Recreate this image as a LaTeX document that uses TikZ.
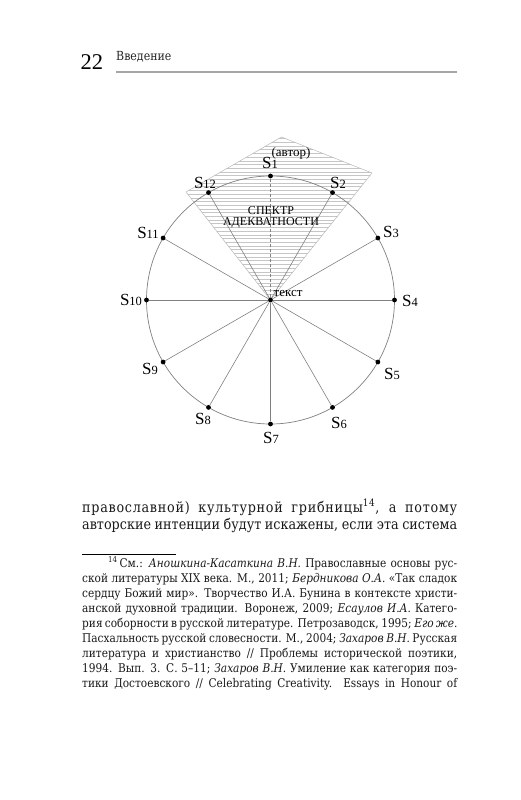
\documentclass[tikz,border=0pt]{standalone}
\usepackage{fontspec}
\setmainfont{DejaVu Serif}
\newfontfamily\timesfont{Liberation Serif}
\newfontfamily\narrowfont[FakeStretch=0.88]{DejaVu Serif}
\usetikzlibrary{positioning}

\newcommand{\snum}[1]{{\fontsize{17}{17}\selectfont S}{\fontsize{12.5}{12.5}\selectfont #1}}

\begin{document}
\begin{tikzpicture}[x=1pt, y=-1pt,
  rim/.style={draw=gray, line width=0.7pt},
  spoke/.style={draw=gray, line width=0.6pt},
  dot/.style={circle, fill=black, inner sep=0pt, minimum size=4.8pt},
  slab/.style={font=\timesfont, inner sep=0pt},
  hatch/.style={draw=gray!45, line width=0.4pt},
  bodyline/.style={anchor=base west, inner sep=0pt, text=black!90, font=\narrowfont\fontsize{14.5}{16}\selectfont},
  noteline/.style={anchor=base west, inner sep=0pt, text=black!90, font=\narrowfont\fontsize{12}{14}\selectfont}
]
\useasboundingbox (0,0) rectangle (521,800);

% running head
\node[anchor=base west, inner sep=0pt, font=\timesfont\fontsize{22.5}{22}\selectfont] (pageno) at (80.5,70) {22};
\node[anchor=base west, inner sep=0pt, text=black!85, font=\narrowfont\fontsize{12.5}{12}\selectfont] (runhead) at (116,61) {Введение};
\draw[gray!70, line width=2pt] (116,72) -- (457,72);

% spectrum of adequacy
\coordinate (c) at (270.5,300);
\coordinate (spl) at (186,192);
\coordinate (spt) at (281.5,137);
\coordinate (spr) at (372,173);
\begin{scope}
  \clip (c) -- (spl) -- (spt) -- (spr) -- cycle;
  \foreach \y in {138.5,142.2,...,300} \draw[hatch] (180,\y) -- (380,\y);
\end{scope}
\draw[gray!55, line width=0.5pt] (c) -- (spl) -- (spt) -- (spr) -- cycle;

% circle, points and spokes
\draw[rim] (c) circle[radius=124];
\node[dot] (ctr) at (c) {};
\foreach \i [evaluate=\i as \a using -120+30*\i] in {1,...,12}
  \node[dot] (s\i) at ([shift={(\a:124)}]c) {};
\draw[spoke, dash pattern=on 3pt off 2pt] (ctr) -- (s1);
\foreach \i in {2,...,12}
  \draw[spoke] (ctr) -- (s\i);

% labels
\foreach \i/\x/\y in {1/270/163, 2/338/183, 3/391/232, 4/410/301, 5/392/374, 6/339/423,
    7/271/438, 8/203/419, 9/150/369, 10/131/300, 11/148/233, 12/205/183}
  \node[slab] (l\i) at (\x,\y) {\snum{\i}};
\node[slab, font=\timesfont\fontsize{13}{13}\selectfont] (author) at (291,153) {(автор)};
\node[slab, font=\timesfont\fontsize{13}{13}\selectfont, anchor=west] (txt) at (273.5,293) {текст};
\node[slab, font=\timesfont\fontsize{12}{11.5}\selectfont, align=center] (spec) at (271,217.5) {СПЕКТР\\АДЕКВАТНОСТИ};

% body text
\node[bodyline] (ln1) at (82,512) {\makebox[375pt][s]{\addfontfeature{LetterSpace=5}православной) культурной грибницы\textsuperscript{14}, а потому}};
\node[bodyline] (ln2) at (82,529) {\makebox[375pt][s]{авторские интенции будут искажены, если эта система}};

% footnote
\draw[line width=0.8pt] (82,554) -- (176,554);
\node[noteline] (fn1) at (108,567) {\makebox[349pt][s]{\textsuperscript{14}\,См.: \textit{Аношкина-Касаткина В.Н.} Православные основы рус-}};
\foreach \txt [count=\i from 2] in {
    {ской литературы XIX века. М., 2011; \textit{Бердникова О.А.} «Так сладок},
    {сердцу Божий мир». Творчество И.А. Бунина в контексте христи-},
    {анской духовной традиции. Воронеж, 2009; \textit{Есаулов И.А.} Катего-},
    {рия соборности в русской литературе. Петрозаводск, 1995; \textit{Его же.}},
    {Пасхальность русской словесности. М., 2004; \textit{Захаров В.Н.} Русская},
    {литература и христианство // Проблемы исторической поэтики,},
    {1994. Вып. 3. С. 5–11; \textit{Захаров В.Н.} Умиление как категория поэ-},
    {тики Достоевского // Celebrating Creativity. Essays in Honour of}}
  \node[noteline] (fn\i) at (82,{567+15*(\i-1)}) {\makebox[375pt][s]{\txt}};
\end{tikzpicture}
\end{document}
